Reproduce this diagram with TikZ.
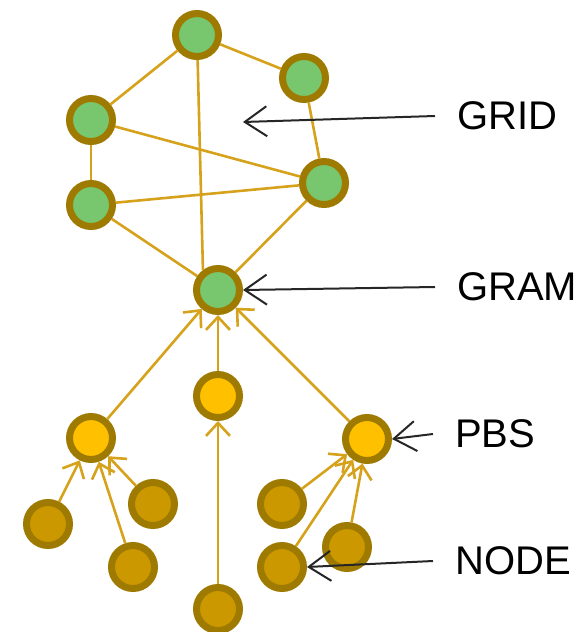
\documentclass[tikz,border=0pt]{standalone}
\usepackage{fontspec}
\setmainfont{Liberation Sans}
\usetikzlibrary{arrows.meta}

\definecolor{ringcol}{RGB}{158,122,0}
\definecolor{gridgreen}{RGB}{120,199,110}
\definecolor{pbsyellow}{RGB}{255,192,0}
\definecolor{workgold}{RGB}{203,152,0}
\definecolor{linkcol}{RGB}{214,162,28}

\tikzset{
	ball/.style = {circle, draw = ringcol, line width = 7pt, minimum size = 43pt, inner sep = 0pt},
	gridnode/.style = {ball, fill = gridgreen},
	pbsnode/.style = {ball, fill = pbsyellow},
	worknode/.style = {ball, fill = workgold},
	link/.style = {draw = linkcol, line width = 2.6pt},
	feed/.style = {link, -{Straight Barb[length = 13pt, width = 24pt]}},
	pointer/.style = {draw = black!85, line width = 2pt, -{Straight Barb[length = 22pt, width = 30pt]}},
	tagtext/.style = {anchor = west, inner xsep = 22pt, inner ysep = 0pt, font = \fontsize{40}{46}\selectfont}
}

\begin{document}
\begin{tikzpicture}[x = 1pt, y = -1pt]
			\useasboundingbox (0,0) rectangle (580,632);
			
			\node [gridnode] (gtop) at (197,35) {};
			\node [gridnode] (gnortheast) at (304,78) {};
			\node [gridnode] (gwestup) at (91,120) {};
			\node [gridnode] (gwestdown) at (91,205) {};
			\node [gridnode] (geast) at (324,183) {};
			\node [gridnode] (gram) at (218,290) {};
			
			\node [pbsnode] (pbsmid) at (218,396) {};
			\node [pbsnode] (pbsleft) at (91,438) {};
			\node [pbsnode] (pbsright) at (367,439) {};
			
			\node [worknode] (wleftA) at (48,524) {};
			\node [worknode] (wleftB) at (153,504) {};
			\node [worknode] (wleftC) at (133,567) {};
			\node [worknode] (wmid) at (218,609) {};
			\node [worknode] (wrightA) at (282,504) {};
			\node [worknode] (wrightB) at (282,567) {};
			\node [worknode] (wrightC) at (347,547) {};
			
			\coordinate (gridspot) at (243,122);
			
			\path [link] (gtop) -- (gwestup);
			\path [link] (gtop) -- (gnortheast);
			\path [link] (gtop) -- (gram.127);
			\path [link] (gnortheast) -- (geast);
			\path [link] (gwestup) -- (gwestdown);
			\path [link] (gwestup) -- (geast);
			\path [link] (gwestdown) -- (geast);
			\path [link] (gwestdown) -- (gram);
			\path [link] (geast) -- (gram);
			
			\path [feed] (pbsleft) -- (gram);
			\path [feed] (pbsmid) -- (gram);
			\path [feed] (pbsright) -- (gram);
			\path [feed] (wmid) -- (pbsmid);
			\path [feed] (wleftA) -- (pbsleft);
			\path [feed] (wleftB) -- (pbsleft);
			\path [feed] (wleftC) -- (pbsleft);
			\path [feed] (wrightA) -- (pbsright);
			\path [feed] (wrightB) -- (pbsright);
			\path [feed] (wrightC) -- (pbsright);
			
			\node [tagtext] (gridtag) at (435,116) {GRID};
			\node [tagtext] (gramtag) at (435,287) {GRAM};
			\node [tagtext] (pbstag) at (433,434) {PBS};
			\node [tagtext] (nodetag) at (433,561) {NODE};
			
			\path [pointer] (gridtag.west) -- (gridspot);
			\path [pointer] (gramtag.west) -- (gram.east);
			\path [pointer] (pbstag.west) -- (pbsright.east);
			\path [pointer] (nodetag.west) -- (wrightB.east);
		\end{tikzpicture}
\end{document}
